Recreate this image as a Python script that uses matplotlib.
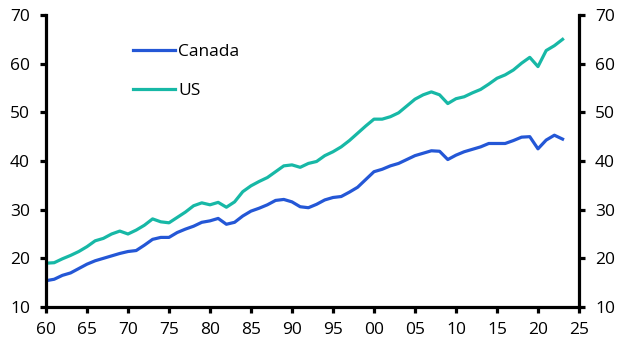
import matplotlib
matplotlib.use("Agg")
import matplotlib.pyplot as plt

years = list(range(1960, 2024))
canada = [15.4, 15.7, 16.5, 17.0, 17.9, 18.8, 19.5, 20.0, 20.5, 21.0,
          21.4, 21.6, 22.7, 23.9, 24.3, 24.3, 25.3, 26.0, 26.6, 27.4,
          27.7, 28.2, 27.0, 27.4, 28.7, 29.7, 30.3, 31.0, 31.9, 32.1,
          31.6, 30.6, 30.4, 31.1, 32.0, 32.5, 32.7, 33.6, 34.6, 36.2,
          37.8, 38.3, 39.0, 39.5, 40.3, 41.1, 41.6, 42.1, 42.0, 40.3,
          41.2, 41.9, 42.4, 42.9, 43.6, 43.6, 43.6, 44.2, 44.9, 45.0,
          42.5, 44.3, 45.3, 44.5]
us = [19.0, 19.1, 19.9, 20.6, 21.4, 22.4, 23.6, 24.1, 25.0, 25.6,
      25.0, 25.8, 26.8, 28.1, 27.5, 27.3, 28.4, 29.5, 30.8, 31.4,
      31.0, 31.5, 30.5, 31.6, 33.7, 34.9, 35.8, 36.6, 37.8, 39.0,
      39.2, 38.7, 39.5, 39.9, 41.1, 41.9, 42.9, 44.2, 45.7, 47.2,
      48.6, 48.6, 49.1, 49.9, 51.3, 52.7, 53.6, 54.2, 53.6, 51.8,
      52.8, 53.2, 54.0, 54.7, 55.8, 57.0, 57.7, 58.7, 60.1, 61.3,
      59.4, 62.7, 63.7, 65.0]
xticks = list(range(1960, 2026, 5))
xticklabels = ["%02d" % (y % 100) for y in xticks]
yticks = list(range(10, 71, 10))

plt.rcParams['font.family'] = ['Open Sans', 'DejaVu Sans']

fig = plt.figure(figsize=(6.3, 3.54), dpi=100)
ax = fig.add_axes([0.073, 0.1328, 0.846, 0.8248])

ax.plot(years, canada, color="#2457d6", lw=2.3, label="Canada")
ax.plot(years, us, color="#17b8a6", lw=2.3, label="US")

ax.set_xlim(1960, 2025)
ax.set_ylim(10, 70)
ax.set_xticks(xticks)
ax.set_xticklabels(xticklabels)
ax.set_yticks(yticks)

ax.spines["top"].set_visible(False)
for s in ["left", "right", "bottom"]:
    ax.spines[s].set_linewidth(2.3)
    ax.spines[s].set_color("black")

ax.tick_params(axis="both", direction="out", length=4, width=2.3,
               labelsize=12.5, colors="black")
ax.tick_params(axis="x", pad=6.5)
ax.tick_params(axis="y", pad=7.5, right=True, labelright=True)

ax.legend(loc="upper left", bbox_to_anchor=(0.151, 0.925), frameon=False,
          fontsize=12.5, handlelength=2.4, handletextpad=0.17,
          labelspacing=1.3, borderaxespad=0)

fig.savefig("out.png", dpi=100)
